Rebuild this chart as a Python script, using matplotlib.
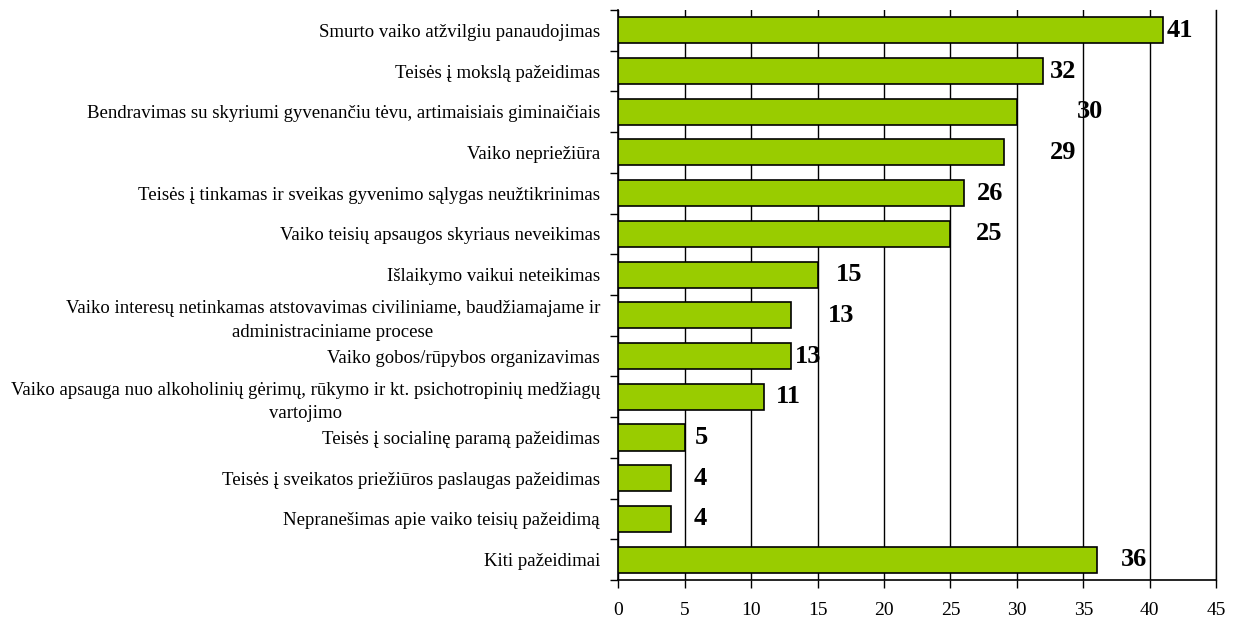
import numpy as np
import matplotlib.pyplot as plt


CATEGORIES = [
    "Smurto vaiko atžvilgiu panaudojimas",
    "Teisės į mokslą pažeidimas",
    "Bendravimas su skyriumi gyvenančiu tėvu, artimaisiais giminaičiais",
    "Vaiko nepriežiūra",
    "Teisės į tinkamas ir sveikas gyvenimo sąlygas neužtikrinimas",
    "Vaiko teisių apsaugos skyriaus neveikimas",
    "Išlaikymo vaikui neteikimas",
    "Vaiko interesų netinkamas atstovavimas civiliniame, baudžiamajame ir\nadministraciniame procese",
    "Vaiko gobos/rūpybos organizavimas",
    "Vaiko apsauga nuo alkoholinių gėrimų, rūkymo ir kt. psichotropinių medžiagų\nvartojimo",
    "Teisės į socialinę paramą pažeidimas",
    "Teisės į sveikatos priežiūros paslaugas pažeidimas",
    "Nepranešimas apie vaiko teisių pažeidimą",
    "Kiti pažeidimai",
]

VALUES = [41, 32, 30, 29, 26, 25, 15, 13, 13, 11, 5, 4, 4, 36]

X_TICKS = [0, 5, 10, 15, 20, 25, 30, 35, 40, 45]


def main():
    plt.rcParams["font.family"] = ["Liberation Serif", "DejaVu Serif"]

    fig = plt.figure(figsize=(12.59, 6.21), dpi=100)
    ax = fig.add_axes([0.491, 0.066, 0.475, 0.918])

    n = len(VALUES)
    y = np.arange(n)

    ax.barh(y, VALUES, height=0.64, color="#99CC00",
            edgecolor="black", linewidth=1.2, zorder=3)

    # data labels, nudged like the original Excel layout
    label_offset = [0.3, 0.5, 4.5, 3.5, 1.0, 1.9, 1.4, 2.8, 0.3, 0.9, 0.8, 1.7, 1.7, 1.8]
    for yi, v, off in zip(y, VALUES, label_offset):
        ax.text(v + off, yi, str(v), va="center", ha="left",
                fontsize=19, fontweight="bold", zorder=4)

    ax.set_xlim(0, 45)
    ax.set_ylim(n - 0.5, -0.5)

    ax.set_xticks(X_TICKS)
    ax.set_xticklabels([str(t) for t in X_TICKS], fontsize=14)
    ax.tick_params(axis="x", direction="out", length=6, width=1, pad=10)

    ax.set_yticks(y)
    ax.set_yticklabels(CATEGORIES, fontsize=13.5, multialignment="center",
                       linespacing=1.5)
    ax.tick_params(axis="y", which="major", length=0, pad=13)
    ax.set_yticks(np.arange(n + 1) - 0.5, minor=True)
    ax.tick_params(axis="y", which="minor", direction="out", length=6, width=1)

    ax.grid(axis="x", color="black", linewidth=1, zorder=0)
    ax.set_axisbelow(True)

    ax.spines["top"].set_visible(False)
    ax.spines["right"].set_linewidth(1)
    for side in ["left", "bottom"]:
        ax.spines[side].set_linewidth(1.2)

    fig.savefig("out.png", dpi=100)
    plt.close(fig)


if __name__ == "__main__":
    main()
